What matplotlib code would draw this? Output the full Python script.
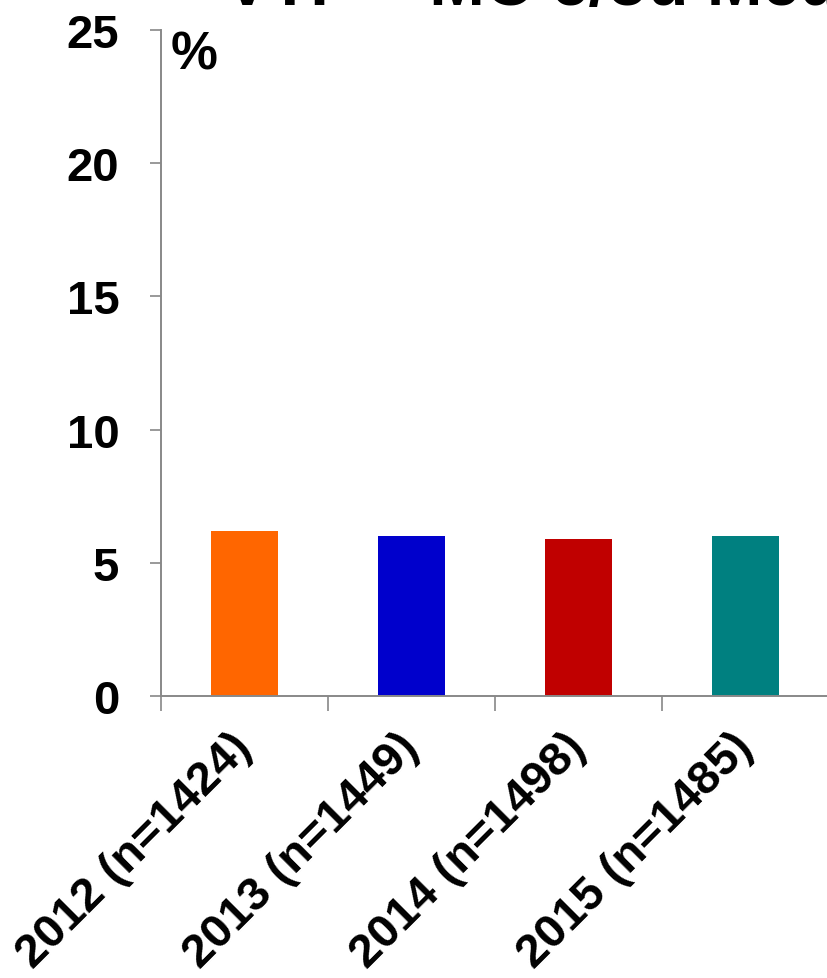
import matplotlib
matplotlib.use("Agg")
from matplotlib import pyplot as plt
from matplotlib.ticker import FixedLocator
from matplotlib.transforms import ScaledTranslation

plt.rcParams['font.family'] = ['Liberation Sans', 'DejaVu Sans']
plt.rcParams['font.weight'] = 'bold'

# data
categories = ["2012 (n=1424)", "2013 (n=1449)", "2014 (n=1498)", "2015 (n=1485)"]
values = [6.2, 6.0, 5.9, 6.0]
colors = ["#FF6600", "#0000CC", "#C00000", "#008080"]
yticks = [0, 5, 10, 15, 20, 25]
title = "VTP + MC e/ou Med"

fig = plt.figure(figsize=(8.27, 9.79), dpi=100)
ax = fig.add_axes([161/827, 1-697/979, 668/827, (697-31)/979])

x = list(range(len(categories)))
ax.bar(x, values, width=0.4, color=colors)

ax.set_xlim(-0.5, len(categories)-0.5)
ax.set_ylim(0, 25)
ax.set_yticks(yticks)
ax.set_yticklabels([str(t) for t in yticks], fontsize=34, fontweight='bold')

# category ticks sit on the boundaries, labels at the centres
ax.xaxis.set_major_locator(FixedLocator([i - 0.5 for i in x]))
ax.set_xticklabels([])
ax.tick_params(axis='x', which='major', length=11, width=1.2, color='#888888', direction='out')
ax.tick_params(axis='y', length=8, width=1.2, color='#888888', direction='out', pad=22)
ax.set_xticks(x, minor=True)
ax.set_xticklabels(categories, minor=True, rotation=45, ha='right', va='top',
                   rotation_mode='anchor', fontsize=34, fontweight='bold')
ax.tick_params(axis='x', which='minor', length=0, pad=26)
shift = ScaledTranslation(-15/100, 8/100, fig.dpi_scale_trans)
for lab in ax.get_xticklabels(minor=True):
    lab.set_transform(lab.get_transform() + shift)

for s in ['top', 'right']:
    ax.spines[s].set_visible(False)
for s in ['left', 'bottom']:
    ax.spines[s].set_color('#888888')
    ax.spines[s].set_linewidth(1.4)

ax.text(0.014, 1.0, "%", transform=ax.transAxes, fontsize=38, fontweight='bold',
        ha='left', va='top')

# title is mostly cut off at the top of the picture
fig.text(0.272, 1-5/979, title, fontsize=48, fontweight='bold', ha='left', va='baseline')

plt.savefig("out.png", dpi=100)
